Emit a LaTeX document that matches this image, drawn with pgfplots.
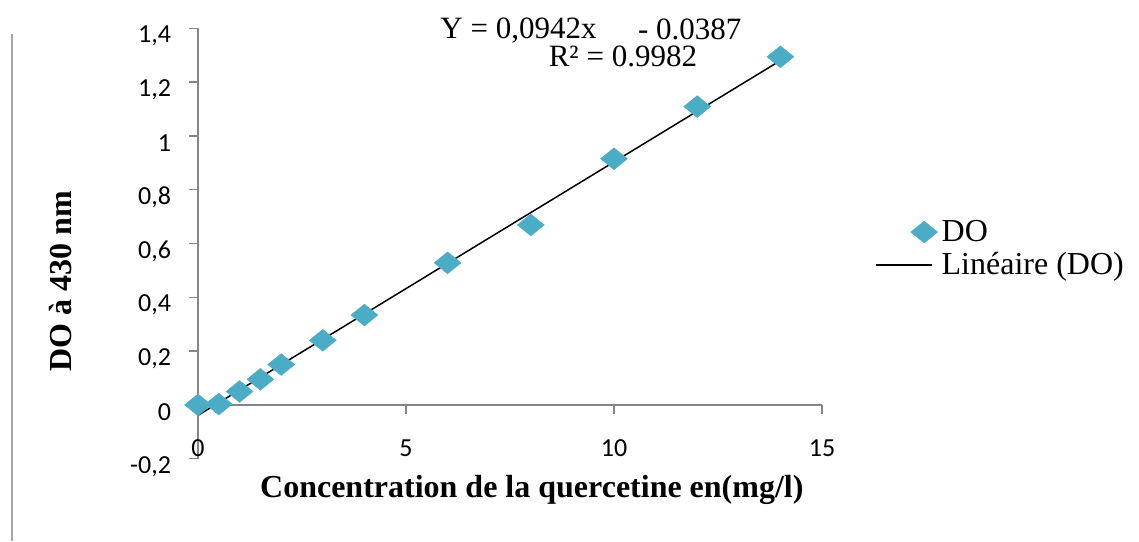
\documentclass[border=0pt]{standalone}
\usepackage{fontspec}
\setmainfont{Liberation Serif}
\newfontfamily\calibri{Carlito}
\usepackage{pgfplots}
\pgfplotsset{compat=1.18}
\definecolor{axgray}{HTML}{868686}
\definecolor{doblue}{HTML}{4BACC6}

\pgfplotsset{
    marklegend/.style={legend image code/.code={\path[draw=none] (0pt,0pt) -- (28pt,0pt); \draw[##1, only marks] plot coordinates {(24pt,0pt)};}},
    linelegend/.style={legend image code/.code={\draw[##1] (0pt,0pt) -- (28pt,0pt);}},
}

\begin{document}
\begin{tikzpicture}
\begin{axis}[
    scale only axis,
    width=312pt, height=215.2pt,
    xmin=0, xmax=15, ymin=-0.2, ymax=1.4,
    axis y line*=left,
    axis x line*=bottom,
    x axis line style={draw=none},
    y axis line style={axgray, line width=0.75pt, -},
    xtick={0,5,10,15},
    xticklabels={0,5,10,15},
    ytick={-0.2,0,0.2,0.4,0.6,0.8,1,1.2,1.4},
    yticklabels={{-0,2},{0},{0,2},{0,4},{0,6},{0,8},{1},{1,2},{1,4}},
    major x tick style={draw=none},
    major y tick style={axgray, line width=0.75pt},
    tick align=outside,
    major tick length=4.5pt,
    ticklabel style={font=\calibri\fontsize{13}{15}\selectfont},
    xticklabel style={anchor=center, yshift=9.9pt},
    yticklabel style={anchor=east, xshift=-5.5pt, yshift=-3.8pt},
    xlabel={\textbf{Concentration de la quercetine en(mg/l)}},
    xlabel style={at={(axis description cs:0.535,0)}, anchor=base, yshift=-19.2pt, font=\fontsize{16}{19}\selectfont},
    ylabel={\textbf{DO à 430 nm}},
    ylabel style={at={(axis description cs:-0.2196,0.413)}, anchor=center, font=\fontsize{16}{19}\selectfont},
    legend style={draw=none, fill=none, at={(1.085,0.488)}, anchor=west,
        inner sep=0pt, font=\fontsize{16}{19.5}\selectfont},
    legend cell align=left,
    clip=false,
]

\addplot[only marks, mark=square*, mark size=4.77pt,
    mark options={fill=doblue, draw=doblue, line width=0.2pt, yscale=0.81, rotate=45},
    marklegend]
coordinates {
    (0,0) (0.5,0.003) (1,0.05) (1.5,0.095) (2,0.15) (3,0.24)
    (4,0.334) (6,0.528) (8,0.669) (10,0.915) (12,1.109) (14,1.294)
};

% trend line Y = 0,0942x - 0.0387
\addplot[black, line width=0.75pt, no marks, linelegend]
coordinates {(0,-0.0387) (14,1.2801)};

\legend{DO, Linéaire (DO)}

\draw[axgray, line width=0.75pt] (axis cs:0,0) -- (axis cs:15,0);
\draw[axgray, line width=0.75pt] (axis cs:5,0) -- ++(0pt,-4.5pt);
\draw[axgray, line width=0.75pt] (axis cs:10,0) -- ++(0pt,-4.5pt);
\draw[axgray, line width=0.75pt] (axis cs:15,0) -- ++(0pt,-4.5pt);
\end{axis}

\node[anchor=base west, font=\fontsize{15.5}{18}\selectfont, inner sep=0pt] at (121pt,210.2pt) {Y = 0,0942x};
\node[anchor=base west, font=\fontsize{15.5}{18}\selectfont, inner sep=0pt] at (219.8pt,209.5pt) {- 0.0387};
\node[anchor=base west, font=\fontsize{15.5}{18}\selectfont, inner sep=0pt] at (175.2pt,196pt) {R² = 0.9982};

\draw[gray!70, line width=0.75pt] (-93pt,-41.15pt) -- (-93pt,212.4pt);

\pgfresetboundingbox
\useasboundingbox (-99pt,-41.15pt) rectangle (470.5pt,229.35pt);
\end{tikzpicture}
\end{document}
